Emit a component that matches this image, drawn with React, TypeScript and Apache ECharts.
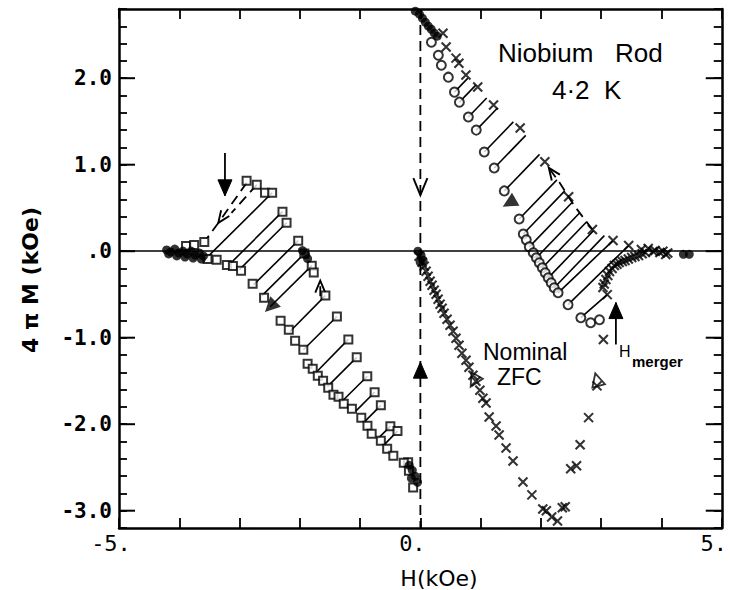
import React, { useEffect, useRef } from "react";
import * as echarts from "echarts";

// ---------- axes ----------
const X_MIN = -5;
const X_MAX = 5;
const Y_MIN = -3.2;
const Y_MAX = 2.8;
const xLabelValues = [-5, 0, 5];
const xLabelTexts = ["-5.", "0.", "5."];
const yMajorValues = [-3, -2, -1, 0, 1, 2];
const yLabelTexts = ["-3.0", "-2.0", "-1.0", ".0", "1.0", "2.0"];

// ---------- data (H in kOe, 4piM in kOe) ----------
const leftUpperSquares = [
  [-3.888, 0.06], [-3.753, 0.072], [-3.585, 0.107], [-2.883, 0.814], [-2.714, 0.768],
  [-2.578, 0.676], [-2.459, 0.676], [-2.288, 0.457], [-2.22, 0.329], [-2.027, 0.122],
  [-1.925, -0.028], [-1.802, -0.167], [-1.769, -0.247], [-1.576, -0.513], [-1.385, -0.755],
  [-1.195, -1.02], [-1.056, -1.227], [-0.881, -1.446], [-0.759, -1.631], [-0.656, -1.782],
  [-0.498, -2.025], [-0.38, -2.08], [-0.203, -2.44],
];
const leftLowerSquares = [
  [-3.532, -0.089], [-3.38, -0.1], [-3.21, -0.16], [-3.11, -0.17], [-2.975, -0.225],
  [-2.783, -0.376], [-2.593, -0.537], [-2.319, -0.803], [-2.183, -0.907], [-2.078, -1.035],
  [-1.942, -1.139], [-1.871, -1.301], [-1.786, -1.358], [-1.702, -1.439], [-1.614, -1.497],
  [-1.529, -1.578], [-1.442, -1.659], [-1.358, -1.682], [-1.271, -1.763], [-1.136, -1.821],
  [-0.98, -1.925], [-0.878, -2.017], [-0.808, -2.11], [-0.656, -2.19], [-0.551, -2.283],
  [-0.449, -2.364], [-0.276, -2.445], [-0.19, -2.537], [-0.12, -2.733],
];
const rightCircles = [
  [0.183, 2.416], [0.298, 2.266], [0.348, 2.15], [0.464, 2.012], [0.565, 1.839],
  [0.647, 1.723], [0.796, 1.551], [0.927, 1.4], [1.06, 1.147], [1.225, 0.962],
  [1.392, 0.697], [1.639, 0.373], [1.707, 0.199], [1.757, 0.131], [1.807, 0.05],
  [1.874, -0.019], [1.924, -0.076], [1.973, -0.134], [2.023, -0.192], [2.071, -0.25],
  [2.121, -0.308], [2.17, -0.366], [2.22, -0.423], [2.285, -0.481], [2.45, -0.618],
  [2.662, -0.769], [2.825, -0.827], [2.971, -0.792],
];
const rightUpperCrosses = [
  [0.375, 2.52], [0.427, 2.36], [0.591, 2.232], [0.639, 2.174], [0.756, 2.036],
  [0.951, 1.897], [1.214, 1.691], [1.655, 1.425], [2.065, 1.034], [2.46, 0.63],
  [2.854, 0.25], [3.196, 0.123], [3.456, 0.066], [3.667, 0.02], [3.78, 0.031],
  [3.893, 0.008], [4.023, 0.0], [4.104, -0.022],
];
const rightReturnCrosses = [
  [3.1, -0.502], [3.029, -0.421], [3.05, -0.38], [3.078, -0.328], [3.11, -0.28],
  [3.138, -0.235], [3.18, -0.2], [3.218, -0.166], [3.26, -0.15], [3.298, -0.131],
  [3.35, -0.12], [3.395, -0.108], [3.45, -0.09], [3.506, -0.073], [3.56, -0.06],
  [3.619, -0.05], [3.68, -0.03], [3.732, -0.015], [3.861, -0.003], [3.974, -0.015],
  [4.071, -0.038],
];
const zfcCrosses = [
  [-0.021, -0.058], [0.029, -0.127], [0.063, -0.173], [0.095, -0.231], [0.128, -0.289],
  [0.162, -0.347], [0.194, -0.393], [0.228, -0.451], [0.261, -0.497], [0.294, -0.555],
  [0.327, -0.613], [0.361, -0.659], [0.393, -0.717], [0.443, -0.786], [0.492, -0.855],
  [0.542, -0.925], [0.591, -1.006], [0.641, -1.087], [0.689, -1.179], [0.757, -1.26],
  [0.806, -1.341], [0.872, -1.434], [0.921, -1.503], [0.987, -1.607], [1.037, -1.699],
  [1.089, -1.755], [1.141, -1.917], [1.256, -2.021], [1.306, -2.125], [1.421, -2.275],
  [1.537, -2.425], [1.702, -2.667], [1.85, -2.817], [2.031, -2.979], [2.09, -3.0],
  [2.178, -3.072], [2.275, -3.118], [2.354, -2.965], [2.403, -2.954], [2.494, -2.514],
  [2.591, -2.48], [2.65, -2.238], [2.791, -1.924], [2.93, -1.557], [3.036, -1.022],
];
const denseFilled = [
  [-4.21, 0.014], [-4.176, -0.032], [-4.142, -0.009], [-4.075, 0.025], [-4.041, -0.055],
  [-4.007, -0.021], [-3.939, 0.002], [-3.905, -0.067], [-3.871, -0.032], [-3.803, 0.002],
  [-3.77, -0.079], [-3.736, -0.044], [-3.668, -0.021], [-3.634, -0.09], [-3.6, -0.055],
  [-1.956, 0.007], [-1.905, -0.039], [-1.871, -0.086],
  [-0.186, -2.475], [-0.134, -2.533], [-0.083, -2.602], [-0.047, -2.672], [-0.149, -2.625],
  [-0.084, 2.775], [-0.015, 2.74], [0.034, 2.694], [0.083, 2.647], [0.133, 2.601],
  [0.181, 2.566], [0.231, 2.52], [0.28, 2.486],
  [-0.041, 0.0], [0.011, -0.046], [0.045, -0.104], [-0.003, -0.127],
  [4.364, -0.036], [4.461, -0.036],
];
// hatch segments: [H1, M1, H2, M2]
const leftHatches = [
  [-2.459, 0.676, -3.547, -0.077], [-2.288, 0.457, -3.175, -0.158], [-2.22, 0.329, -3.006, -0.216],
  [-2.027, 0.122, -2.766, -0.388], [-1.925, -0.028, -2.627, -0.514], [-1.802, -0.167, -2.492, -0.642],
  [-1.576, -0.513, -2.164, -0.929], [-1.385, -0.755, -1.941, -1.139], [-1.195, -1.02, -1.732, -1.403],
  [-1.056, -1.227, -1.542, -1.565], [-0.881, -1.446, -1.303, -1.738], [-0.759, -1.631, -1.08, -1.854],
  [-0.656, -1.782, -0.925, -1.97], [-0.498, -2.025, -0.702, -2.164], [-0.38, -2.08, -0.598, -2.236],
];
const rightHatches = [
  [0.565, 1.839, 0.788, 2.001], [0.647, 1.723, 0.919, 1.92], [0.796, 1.551, 1.1, 1.771],
  [0.927, 1.4, 1.28, 1.655], [1.06, 1.147, 1.542, 1.495], [1.225, 0.962, 1.748, 1.339],
  [1.392, 0.697, 1.977, 1.12], [1.639, 0.373, 2.265, 0.825], [1.707, 0.199, 2.396, 0.697],
  [1.807, 0.05, 2.529, 0.572], [1.924, -0.076, 2.644, 0.445], [2.023, -0.192, 2.759, 0.341],
  [2.121, -0.308, 2.872, 0.237], [2.22, -0.423, 3.052, 0.18], [2.285, -0.481, 3.196, 0.123],
  [2.45, -0.618, 3.456, 0.066], [2.662, -0.769, 3.1, -0.502],
];
// direction markers: [H, M, rotation deg]
const filledTriangles = [[-2.49, -0.642, 135], [1.474, 0.558, 120]];
const openTriangles = [[0.888, -1.503, 150], [2.93, -1.484, 15]];
// annotation arrows (data coords)
const arrowPaths = [
  { pts: [[0, 2.8], [0, -3.2]], line: "dashed", head: "none" },
  { pts: [[0, 0.9], [0, 0.647]], line: "none", head: "open" },
  { pts: [[0, -1.6], [0, -1.283]], line: "none", head: "filled" },
  { pts: [[-3.242, 1.136], [-3.242, 0.64]], line: "solid", head: "filled" },
  { pts: [[-2.883, 0.79], [-3.353, 0.327]], line: "dashed", head: "small" },
  { pts: [[-3.353, 0.327], [-3.55, 0.14]], line: "dashed", head: "none" },
  { pts: [[-2.714, 0.768], [-3.134, 0.443]], line: "dashed", head: "none" },
  { pts: [[-1.661, -0.52], [-1.661, -0.34]], line: "dashed", head: "small" },
  { pts: [[2.854, 0.25], [2.54, 0.538], [2.311, 0.791], [2.13, 0.964]], line: "dashed", head: "small" },
  { pts: [[3.244, -1.08], [3.244, -0.594]], line: "solid", head: "filled" },
];

const HEADS: any = {
  open: { len: 17, half: 7, filled: false },
  filled: { len: 16, half: 7, filled: true },
  small: { len: 12, half: 5, filled: false },
};

const CROSS = "path://M0,0L10,10M10,0L0,10";

export default function App() {
  const ref = useRef<HTMLDivElement>(null);
  useEffect(() => {
    document.body.style.margin = "0";
    if (!ref.current) return;
    const chart = echarts.init(ref.current, null, { renderer: "svg" });

    const yFmt = (v: number) => {
      const i = yMajorValues.findIndex((m) => Math.abs(m - v) < 1e-6);
      return i >= 0 ? yLabelTexts[i] : "";
    };
    const xFmt = (v: number) => {
      const i = xLabelValues.findIndex((m) => Math.abs(m - v) < 1e-6);
      return i >= 0 ? xLabelTexts[i] : "";
    };
    const axisLine = { show: true, onZero: false, lineStyle: { color: "#000", width: 2.5 } };
    const xBase = {
      type: "value", min: X_MIN, max: X_MAX, interval: 1,
      axisLine, splitLine: { show: false },
      axisTick: { show: true, inside: true, length: 10, lineStyle: { color: "#000", width: 1.8 } },
    };
    const yBase = {
      type: "value", min: Y_MIN, max: Y_MAX, interval: 0.2,
      axisLine, splitLine: { show: false },
      axisTick: { show: true, inside: true, length: 8, lineStyle: { color: "#000", width: 1.8 } },
    };

    const openStyle = { color: "#fff", borderColor: "#000", borderWidth: 2 };
    const crossStyle = { color: "rgba(0,0,0,0)", borderColor: "#000", borderWidth: 2.1 };

    const option: any = {
      animation: false,
      backgroundColor: "#fff",
      grid: { left: 119, right: 8, top: 9, bottom: 62, containLabel: false },
      xAxis: [
        {
          ...xBase, position: "bottom",
          axisLabel: {
            formatter: xFmt, fontFamily: "DejaVu Sans Mono", fontSize: 22, color: "#000",
            margin: 4, padding: [0, 16, 0, 0],
          },
        },
        { ...xBase, position: "top", axisLabel: { show: false } },
      ],
      yAxis: [
        {
          ...yBase, position: "left",
          axisLabel: {
            formatter: yFmt, fontFamily: "DejaVu Sans Mono", fontWeight: "bold",
            fontSize: 21, color: "#000", margin: 7,
          },
        },
        { ...yBase, position: "right", axisLabel: { show: false } },
      ],
      series: [
        {
          type: "custom", name: "majorTicks", z: 5, silent: true,
          data: yMajorValues.map((v) => [X_MIN, v]),
          encode: { x: 0, y: 1 },
          renderItem: (params: any, api: any) => {
            const v = api.value(1);
            const l = api.coord([X_MIN, v]);
            const r = api.coord([X_MAX, v]);
            return {
              type: "group",
              children: [
                { type: "line", shape: { x1: l[0], y1: l[1], x2: l[0] + 16, y2: l[1] }, style: { stroke: "#000", lineWidth: 2 } },
                { type: "line", shape: { x1: r[0], y1: r[1], x2: r[0] - 16, y2: r[1] }, style: { stroke: "#000", lineWidth: 2 } },
              ],
            };
          },
        },
        {
          type: "custom", name: "hatch", z: 2, silent: true,
          data: [...leftHatches, ...rightHatches],
          encode: { x: [0, 2], y: [1, 3] },
          renderItem: (params: any, api: any) => {
            const p1 = api.coord([api.value(0), api.value(1)]);
            const p2 = api.coord([api.value(2), api.value(3)]);
            return {
              type: "line",
              shape: { x1: p1[0], y1: p1[1], x2: p2[0], y2: p2[1] },
              style: { stroke: "#000", lineWidth: 1.6 },
            };
          },
        },
        {
          type: "custom", name: "arrows", z: 3, silent: true,
          data: arrowPaths.map((a) => [a.pts[0][0], a.pts[0][1]]),
          encode: { x: 0, y: 1 },
          renderItem: (params: any, api: any) => {
            const a = arrowPaths[params.dataIndex];
            const pts = a.pts.map((p) => api.coord(p));
            const children: any[] = [];
            if (a.line !== "none") {
              children.push({
                type: "polyline",
                shape: { points: pts },
                style: { stroke: "#000", lineWidth: 1.8, fill: "none", lineDash: a.line === "dashed" ? [10, 6] : null },
              });
            }
            if (a.head !== "none") {
              const h = HEADS[a.head];
              const n = pts.length;
              const tip = pts[n - 1];
              const prev = pts[n - 2];
              const dx = tip[0] - prev[0];
              const dy = tip[1] - prev[1];
              const len = Math.hypot(dx, dy) || 1;
              const ux = dx / len;
              const uy = dy / len;
              const bx = tip[0] - ux * h.len;
              const by = tip[1] - uy * h.len;
              const p1 = [bx - uy * h.half, by + ux * h.half];
              const p2 = [bx + uy * h.half, by - ux * h.half];
              if (h.filled) {
                children.push({ type: "polygon", shape: { points: [p1, tip, p2] }, style: { fill: "#000", stroke: "#000", lineWidth: 1 } });
              } else {
                children.push({ type: "polyline", shape: { points: [p1, tip, p2] }, style: { stroke: "#000", lineWidth: 1.9, fill: "none" } });
              }
            }
            return { type: "group", children };
          },
        },
        {
          type: "scatter", name: "upper squares", z: 4, symbol: "rect", symbolSize: 8,
          itemStyle: openStyle, data: leftUpperSquares,
          markLine: {
            silent: true, symbol: ["none", "none"], label: { show: false },
            lineStyle: { color: "#000", width: 1.6, type: "solid" },
            data: [{ yAxis: 0 }],
          },
        },
        { type: "scatter", name: "lower squares", z: 4, symbol: "rect", symbolSize: 8, itemStyle: openStyle, data: leftLowerSquares },
        { type: "scatter", name: "circles", z: 4, symbol: "circle", symbolSize: 9, itemStyle: openStyle, data: rightCircles },
        { type: "scatter", name: "upper crosses", z: 4, symbol: CROSS, symbolSize: 9, itemStyle: crossStyle, data: rightUpperCrosses },
        { type: "scatter", name: "return crosses", z: 4, symbol: CROSS, symbolSize: 9, itemStyle: crossStyle, data: rightReturnCrosses },
        { type: "scatter", name: "ZFC crosses", z: 4, symbol: CROSS, symbolSize: 9, itemStyle: crossStyle, data: zfcCrosses },
        { type: "scatter", name: "dense", z: 4, symbol: "circle", symbolSize: 9, itemStyle: { color: "#000" }, data: denseFilled },
        {
          type: "scatter", name: "filled triangles", z: 5, symbol: "triangle", symbolSize: 15,
          itemStyle: { color: "#000" },
          data: filledTriangles.map((t) => ({ value: [t[0], t[1]], symbolRotate: t[2] })),
        },
        {
          type: "scatter", name: "open triangles", z: 5, symbol: "triangle", symbolSize: 13,
          itemStyle: { color: "rgba(0,0,0,0)", borderColor: "#000", borderWidth: 1.8 },
          data: openTriangles.map((t) => ({ value: [t[0], t[1]], symbolRotate: t[2] })),
        },
      ],
      graphic: [
        {
          type: "text", x: 498, y: 53,
          style: { text: "Niobium   Rod", fontFamily: "Liberation Sans", fontSize: 26, fill: "#000", textVerticalAlign: "middle", verticalAlign: "middle" },
        },
        {
          type: "text", x: 552, y: 90,
          style: { text: "4·2  K", fontFamily: "Liberation Sans", fontSize: 26, fill: "#000", textVerticalAlign: "middle", verticalAlign: "middle" },
        },
        {
          type: "text", x: 483, y: 352,
          style: { text: "Nominal", fontFamily: "Liberation Sans", fontSize: 23, fill: "#000", textVerticalAlign: "middle", verticalAlign: "middle" },
        },
        {
          type: "text", x: 497, y: 377,
          style: { text: "ZFC", fontFamily: "Liberation Sans", fontSize: 23, fill: "#000", textVerticalAlign: "middle", verticalAlign: "middle" },
        },
        {
          type: "text", x: 619, y: 351,
          style: { text: "H", fontFamily: "Liberation Sans", fontSize: 16, fill: "#000", textVerticalAlign: "middle", verticalAlign: "middle" },
        },
        {
          type: "text", x: 632, y: 361,
          style: { text: "merger", fontFamily: "Liberation Sans", fontWeight: "bold", fontSize: 15, fill: "#000", textVerticalAlign: "middle", verticalAlign: "middle" },
        },
        {
          type: "text", x: 439, y: 578,
          style: { text: "H(kOe)", fontFamily: "DejaVu Sans", fontSize: 22, fill: "#000", textAlign: "center", align: "center", textVerticalAlign: "middle", verticalAlign: "middle" },
        },
        {
          type: "text", x: 30, y: 280, rotation: Math.PI / 2,
          style: { text: "4 π M (kOe)", fontFamily: "DejaVu Sans", fontWeight: "bold", fontSize: 22, fill: "#000", textAlign: "center", align: "center", textVerticalAlign: "middle", verticalAlign: "middle" },
        },
      ],
    };
    chart.setOption(option);
    return () => chart.dispose();
  }, []);
  return <div ref={ref} style={{ width: 730, height: 590 }} />;
}
